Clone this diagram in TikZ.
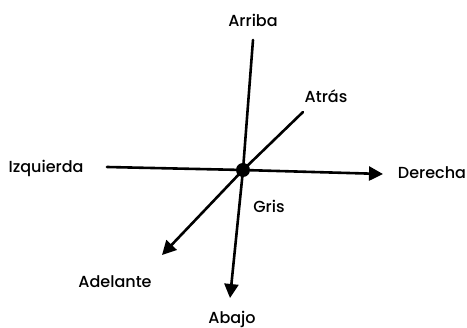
\documentclass[tikz,border=0pt]{standalone}
\usepackage{fontspec}
\setmainfont{Poppins}[UprightFont=* Medium]
\usetikzlibrary{arrows.meta}
\begin{document}
\begin{tikzpicture}[x=1pt, y=-1pt, >={Triangle[length=14pt, width=14pt]},
    axis/.style={line width=2.6pt, line cap=round},
    lbl/.style={font=\fontsize{16}{18}\selectfont}]
    \useasboundingbox (0,0) rectangle (467,328);
    % Axes through the point Gris
    \node[circle, fill=black, inner sep=0pt, minimum size=14pt] (O) at (243,170) {};
    \coordinate (T) at (253,40);
    \coordinate (B) at (230,298);
    \coordinate (L) at (107,167);
    \coordinate (R) at (383,174);
    \coordinate (UR) at (303,112);
    \coordinate (DL) at (162,255);

    \draw[axis] (T) -- (O.center);
    \draw[axis, ->] (O.center) -- (B);
    \draw[axis] (L) -- (O.center);
    \draw[axis, ->] (O.center) -- (R);
    \draw[axis] (UR) -- (O.center);
    \draw[axis, ->] (O.center) -- (DL);

    % Labels
    \node[lbl] (arriba) at (253,20) {Arriba};
    \node[lbl] (atras) at (326,96) {Atrás};
    \node[lbl] (izq) at (46,168) {Izquierda};
    \node[lbl] (der) at (432,173) {Derecha};
    \node[lbl] (gris) at (269,206) {Gris};
    \node[lbl] (adelante) at (115,282) {Adelante};
    \node[lbl] (abajo) at (232,319) {Abajo};
\end{tikzpicture}
\end{document}
